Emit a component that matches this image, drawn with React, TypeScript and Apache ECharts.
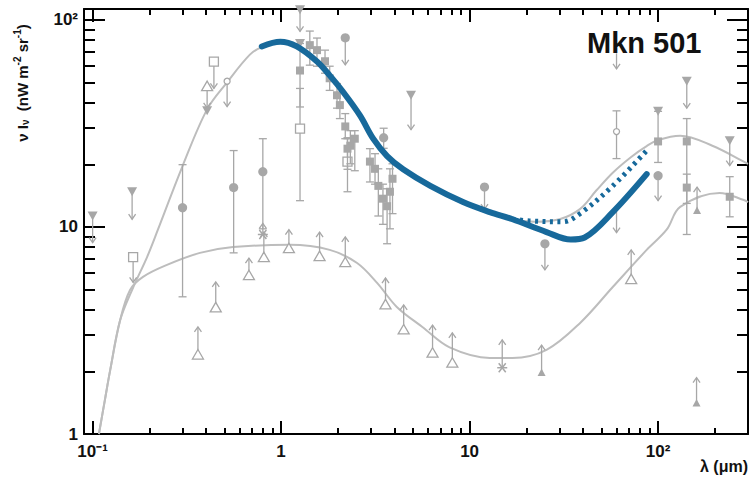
import React, { useEffect, useRef } from "react";
import * as echarts from "echarts";

// Plot ranges: wavelength in μm, intensity νIν in nW m^-2 sr^-1
const lambdaMin = 0.09;
const lambdaMax = 300;
const fluxMin = 1;
const fluxMax = 113;

// Axis ticks and labels
const xMajorTicks = [0.1, 1, 10, 100];
const xMajorLabels = ["10⁻¹", "1", "10", "10²"];
const xMinorTicks = [0.2, 0.3, 0.4, 0.5, 0.6, 0.7, 0.8, 0.9, 2, 3, 4, 5, 6, 7, 8, 9, 20, 30, 40, 50, 60, 70, 80, 90, 200];
const yMajorTicks = [1, 10, 100];
const yMajorLabels = ["1", "10", "10²"];
const yMinorTicks = [2, 3, 4, 5, 6, 7, 8, 9, 20, 30, 40, 50, 60, 70, 80, 90];

// EBL model envelopes (upper and lower)
const upperModelLambda = [0.108, 0.116, 0.124, 0.14, 0.164, 0.195, 0.222, 0.3, 0.405, 0.517, 0.683, 0.79, 0.99, 1.21, 1.55, 1.81, 2.13, 2.62, 3.08, 3.65, 4.44, 6.19, 9.23, 12.8, 16.9, 22, 30, 38.5, 47, 57.5, 72, 87, 100, 131, 194, 285, 300];
const upperModelFlux = [1.0, 1.45, 2.04, 3.55, 5.1, 7.2, 9.7, 19.7, 37, 50, 68, 74, 78, 74, 63, 54, 45, 34.6, 26.7, 22, 19, 15.8, 13.2, 11.8, 10.9, 10.6, 10.9, 12.2, 15, 18.3, 21.8, 24.6, 26.3, 27.6, 24.7, 20.7, 20.2];
const lowerModelLambda = [0.108, 0.116, 0.124, 0.14, 0.158, 0.185, 0.248, 0.371, 0.556, 1.11, 1.81, 2.53, 3.23, 4.11, 5.64, 7.83, 12.8, 16.9, 25.6, 38.6, 57.5, 87, 111, 131, 212, 285, 300];
const lowerModelFlux = [1.0, 1.45, 2.04, 3.55, 4.96, 5.74, 6.56, 7.5, 8.0, 8.2, 7.75, 6.7, 5.37, 4.11, 3.28, 2.62, 2.33, 2.33, 2.55, 3.44, 5.13, 7.75, 9.7, 12.5, 14.6, 13.5, 13.2];

// Mkn 501 EBL limit (solid) and its alternative (dotted)
const limitLambda = [0.79, 0.99, 1.21, 1.55, 1.81, 2.13, 2.62, 3.08, 3.65, 4.44, 6.19, 9.23, 12.8, 16.9, 25.6, 34.4, 40.8, 57.5, 87];
const limitFlux = [74.5, 78.5, 74.5, 63, 54, 45, 34.6, 26.7, 22, 19, 15.8, 13.2, 11.8, 10.9, 9.45, 8.7, 8.9, 11.8, 18];
const altLimitLambda = [16.9, 20.8, 31.3, 38.5, 57.5, 87];
const altLimitFlux = [10.9, 10.7, 10.6, 11.6, 15.8, 23.4];

// Measurements with error bars: [λ, νIν, low, high]
const discErrors = [
  [0.3, 12.4, 4.6, 20],
  [0.56, 15.5, 7.5, 23.4],
  [0.8, 18.5, 9.8, 26.7],
  [3.5, 27, 24, 30],
];
const openSquareErrors = [
  [1.26, 29.9, 13.4, 46.7],
  [2.25, 20.7, 14.8, 26.7],
];
const squareErrors = [
  [1.26, 57, 38, 77],
  [1.42, 75.6, 60.5, 88.4],
  [1.55, 71.5, 59.8, 81.8],
  [1.71, 63.2, 55.3, 71.5],
  [1.81, 52.3, 45.7, 59.8],
  [1.98, 43.3, 37.5, 49.3],
  [2.05, 38.8, 33.4, 44.3],
  [2.19, 30.6, 26.7, 35.3],
  [2.33, 24.7, 20.2, 29.2],
  [2.46, 26.7, 18.7, 29.2],
  [2.25, 23.9, 19, 27],
  [2.96, 20.7, 16.5, 23.9],
  [3.15, 19.1, 16.1, 22.6],
  [3.28, 15.8, 11.3, 19.1],
  [3.47, 13.7, 10.3, 16.1],
  [3.65, 12.6, 8.3, 15.3],
  [3.78, 14.8, 9.8, 19.1],
  [3.9, 17.1, 11.6, 20.2],
  [100, 25.9, 20.5, 36.2],
  [142, 25.9, 9.2, 33.4],
  [142, 15.5, 13, 18],
  [240, 14, 11.2, 17.5],
];
const ringErrors = [[60.2, 28.9, 21.4, 36.4]];

// Limits: [λ, νIν, arrow end]
const discLimits = [
  [2.19, 82, 60.7],
  [12, 15.6, 12.2],
  [25.1, 8.3, 6.2],
  [100, 17.7, 13.4],
];
const openSquareLimits = [
  [0.44, 63, 46.7],
  [0.164, 7.15, 5.4],
];
const triangleDownLimits = [
  [0.1, 11.3, 8.4],
  [0.162, 14.8, 10.9],
  [0.405, 36.4, 36.4],
  [1.26, 112, 88],
  [1.26, 77, 77],
  [4.89, 43.3, 29.5],
  [100, 36.2, 36.2],
  [142, 50.6, 37.5],
  [240, 26.1, 19.8],
];
const openTriangleLimits = [
  [0.362, 2.42, 3.29],
  [0.45, 4.09, 5.43],
  [0.675, 5.85, 7.08],
  [0.81, 7.15, 9.45],
  [1.1, 7.9, 9.7],
  [1.6, 7.23, 9.45],
  [2.19, 6.76, 8.95],
  [3.58, 4.23, 5.67],
  [4.47, 3.2, 4.2],
  [6.36, 2.47, 3.36],
  [8.1, 2.21, 3.08],
  [72, 5.6, 7.75],
  [0.405, 47.9, 37.6],
];
const smallTriangleLimits = [
  [24.1, 1.98, 2.69],
  [161, 12, 15.6],
  [160, 1.41, 1.87],
];
const asteriskLimits = [
  [14.9, 2.09, 2.85],
  [0.8, 9.2, 10.4],
];
const ringLimits = [[0.517, 50.6, 38.2]];
const bareLimits = [
  [60.2, 69, 58],
  [60.2, 12.5, 9.4],
];

const markGrey = "#a7a7a7";
const curveGrey = "#bdbdbd";
const fitBlue = "#17699b";
const fontFamily = '"Liberation Sans", Arial, Helvetica, sans-serif';

const zip = (xs: number[], ys: number[]) => xs.map((x, i) => [x, ys[i]]);
const lg = (v: number) => Math.log10(v);

function marker(kind: string, x: number, y: number): any[] {
  const open = { stroke: markGrey, lineWidth: 1.3, fill: "#ffffff" };
  const solid = { fill: markGrey };
  switch (kind) {
    case "disc":
      return [{ type: "circle", shape: { cx: x, cy: y, r: 4.6 }, style: solid }];
    case "ring":
      return [{ type: "circle", shape: { cx: x, cy: y, r: 3 }, style: open }];
    case "openSquare":
      return [{ type: "rect", shape: { x: x - 4.5, y: y - 4.5, width: 9, height: 9 }, style: open }];
    case "square":
      return [{ type: "rect", shape: { x: x - 4, y: y - 4, width: 8, height: 8 }, style: solid }];
    case "openTriangle":
      return [{ type: "polygon", shape: { points: [[x - 5.5, y + 4.5], [x + 5.5, y + 4.5], [x, y - 5]] }, style: open }];
    case "triangleDown":
      return [{ type: "polygon", shape: { points: [[x - 5, y - 4.5], [x + 5, y - 4.5], [x, y + 4.5]] }, style: solid }];
    case "smallTriangle":
      return [{ type: "polygon", shape: { points: [[x - 4, y + 3.5], [x + 4, y + 3.5], [x, y - 4]] }, style: solid }];
    case "asterisk": {
      const st = { stroke: markGrey, lineWidth: 1.5 };
      return [
        { type: "line", shape: { x1: x - 5, y1: y, x2: x + 5, y2: y }, style: st },
        { type: "line", shape: { x1: x - 3.5, y1: y - 4.5, x2: x + 3.5, y2: y + 4.5 }, style: st },
        { type: "line", shape: { x1: x - 3.5, y1: y + 4.5, x2: x + 3.5, y2: y - 4.5 }, style: st },
      ];
    }
    default:
      return [];
  }
}

function errorSeries(kind: string, rows: number[][]) {
  return {
    type: "custom",
    coordinateSystem: "cartesian2d",
    xAxisIndex: 0,
    yAxisIndex: 0,
    z: 3,
    encode: { x: 0, y: 1 },
    data: rows,
    renderItem: (_: any, api: any) => {
      const x = api.value(0);
      const p = api.coord([x, api.value(1)]);
      const lo = api.coord([x, api.value(2)]);
      const hi = api.coord([x, api.value(3)]);
      const st = { stroke: markGrey, lineWidth: 1.3 };
      return {
        type: "group",
        children: [
          { type: "line", shape: { x1: p[0], y1: hi[1], x2: p[0], y2: lo[1] }, style: st },
          { type: "line", shape: { x1: p[0] - 4, y1: hi[1], x2: p[0] + 4, y2: hi[1] }, style: st },
          { type: "line", shape: { x1: p[0] - 4, y1: lo[1], x2: p[0] + 4, y2: lo[1] }, style: st },
          ...marker(kind, p[0], p[1]),
        ],
      };
    },
  };
}

function limitSeries(kind: string, rows: number[][]) {
  return {
    type: "custom",
    coordinateSystem: "cartesian2d",
    xAxisIndex: 0,
    yAxisIndex: 0,
    z: 3,
    encode: { x: 0, y: 1 },
    data: rows,
    renderItem: (_: any, api: any) => {
      const x = api.value(0);
      const p = api.coord([x, api.value(1)]);
      const e = api.coord([x, api.value(2)]);
      const st = { stroke: markGrey, lineWidth: 1.3, fill: null };
      const children: any[] = [];
      if (Math.abs(e[1] - p[1]) > 1) {
        const dir = e[1] > p[1] ? 1 : -1;
        children.push({ type: "line", shape: { x1: p[0], y1: p[1], x2: e[0], y2: e[1] }, style: st });
        children.push({
          type: "polyline",
          shape: { points: [[e[0] - 3.5, e[1] - dir * 5], [e[0], e[1]], [e[0] + 3.5, e[1] - dir * 5]] },
          style: st,
        });
      }
      children.push(...marker(kind, p[0], p[1]));
      return { type: "group", children };
    },
  };
}

function tickAxis(
  lo: number,
  hi: number,
  position: string,
  ticks: number[],
  length: number,
  withLine: boolean,
  labels?: string[],
  margin = 8
) {
  const values = ticks.map(lg);
  return {
    type: "value",
    min: lg(lo),
    max: lg(hi),
    position,
    axisLine: { show: withLine, onZero: false, lineStyle: { color: "#000", width: 2 } },
    axisTick: { show: true, inside: true, length, customValues: values, lineStyle: { color: "#000", width: 2 } },
    axisLabel: labels
      ? {
          show: true,
          customValues: values,
          margin,
          color: "#111",
          fontSize: 17,
          fontWeight: "bold",
          fontFamily,
          formatter: (v: number) => {
            const i = values.findIndex((t) => Math.abs(t - v) < 1e-6);
            return i >= 0 ? labels[i] : "";
          },
        }
      : { show: false },
    splitLine: { show: false },
    minorTick: { show: false },
  };
}

export default function App() {
  const ref = useRef<HTMLDivElement>(null);

  useEffect(() => {
    if (!ref.current) return;
    const chart = echarts.init(ref.current, undefined, { renderer: "svg" });

    const option: any = {
      animation: false,
      backgroundColor: "#ffffff",
      grid: { left: 84, right: 2, top: 9, bottom: 51, containLabel: false, outerBoundsMode: "none" },
      xAxis: [
        { type: "log", logBase: 10, min: lambdaMin, max: lambdaMax, show: false, splitLine: { show: false } },
        tickAxis(lambdaMin, lambdaMax, "bottom", xMajorTicks, 13, true, xMajorLabels, 9),
        tickAxis(lambdaMin, lambdaMax, "bottom", xMinorTicks, 6, false),
        tickAxis(lambdaMin, lambdaMax, "top", xMajorTicks, 13, true),
        tickAxis(lambdaMin, lambdaMax, "top", xMinorTicks, 6, false),
      ],
      yAxis: [
        { type: "log", logBase: 10, min: fluxMin, max: fluxMax, show: false, splitLine: { show: false } },
        tickAxis(fluxMin, fluxMax, "left", yMajorTicks, 21, true, yMajorLabels, 6),
        tickAxis(fluxMin, fluxMax, "left", yMinorTicks, 11, false),
        tickAxis(fluxMin, fluxMax, "right", yMajorTicks, 21, true),
        tickAxis(fluxMin, fluxMax, "right", yMinorTicks, 11, false),
      ],
      series: [
        {
          type: "line",
          xAxisIndex: 0,
          yAxisIndex: 0,
          z: 2,
          data: zip(upperModelLambda, upperModelFlux),
          smooth: 0.35,
          showSymbol: false,
          lineStyle: { color: curveGrey, width: 2 },
        },
        {
          type: "line",
          xAxisIndex: 0,
          yAxisIndex: 0,
          z: 2,
          data: zip(lowerModelLambda, lowerModelFlux),
          smooth: 0.35,
          showSymbol: false,
          lineStyle: { color: curveGrey, width: 2 },
        },
        errorSeries("disc", discErrors),
        errorSeries("openSquare", openSquareErrors),
        errorSeries("square", squareErrors),
        errorSeries("ring", ringErrors),
        limitSeries("disc", discLimits),
        limitSeries("openSquare", openSquareLimits),
        limitSeries("triangleDown", triangleDownLimits),
        limitSeries("openTriangle", openTriangleLimits),
        limitSeries("smallTriangle", smallTriangleLimits),
        limitSeries("asterisk", asteriskLimits),
        limitSeries("ring", ringLimits),
        limitSeries("none", bareLimits),
        {
          type: "line",
          xAxisIndex: 0,
          yAxisIndex: 0,
          z: 4,
          data: zip(altLimitLambda, altLimitFlux),
          smooth: 0.35,
          showSymbol: false,
          lineStyle: { color: fitBlue, width: 5, type: [3, 4.5] },
        },
        {
          type: "line",
          xAxisIndex: 0,
          yAxisIndex: 0,
          z: 5,
          data: zip(limitLambda, limitFlux),
          smooth: 0.35,
          showSymbol: false,
          lineStyle: { color: fitBlue, width: 6, cap: "round", join: "round" },
        },
      ],
      graphic: [
        {
          type: "text",
          x: 587,
          y: 43,
          z: 10,
          style: {
            text: "Mkn 501",
            fontSize: 29,
            fontWeight: "bold",
            fontFamily,
            fill: "#111",
            align: "left",
            verticalAlign: "middle",
          },
        },
        {
          type: "text",
          x: 22,
          y: 83,
          rotation: Math.PI / 2,
          z: 10,
          style: {
            text: "{m|ν I}{s|ν}{m|  (nW m}{p|-2}{m| sr}{p|-1}{m|)}",
            align: "center",
            verticalAlign: "middle",
            fill: "#111",
            rich: {
              m: { fontSize: 15, fontWeight: "bold", fontFamily, fill: "#111" },
              s: { fontSize: 10, fontWeight: "bold", fontFamily, fill: "#111", padding: [7, 0, 0, 0] },
              p: { fontSize: 10, fontWeight: "bold", fontFamily, fill: "#111", padding: [0, 0, 9, 0] },
            },
          },
        },
        {
          type: "text",
          x: 748,
          y: 466,
          z: 10,
          style: {
            text: "λ (μm)",
            fontSize: 16,
            fontWeight: "bold",
            fontFamily,
            fill: "#111",
            align: "right",
            verticalAlign: "middle",
          },
        },
      ],
    };

    chart.setOption(option);
    return () => chart.dispose();
  }, []);

  return <div ref={ref} style={{ width: 750, height: 485, position: "absolute", left: 0, top: 0 }} />;
}
